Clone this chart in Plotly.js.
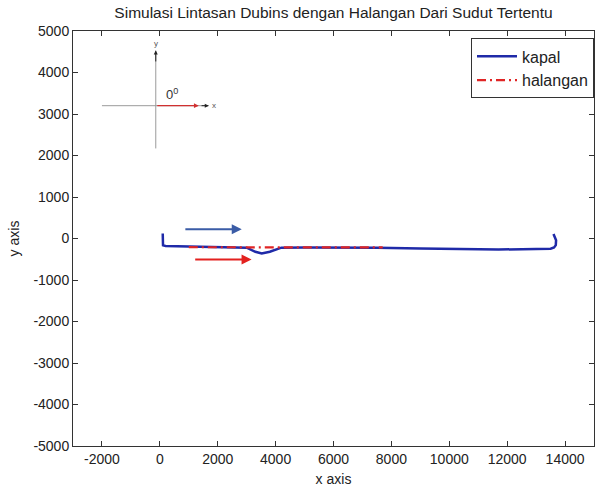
<!DOCTYPE html>
<html>
<head>
<meta charset="utf-8">
<script src="https://cdn.plot.ly/plotly-3.0.1.min.js"></script>
<style>
  html, body { margin: 0; padding: 0; background: #fff; }
  #plot { width: 595px; height: 489px; }
</style>
</head>
<body>
<div id="plot"></div>
<script>
// Ship track (kapal)
const kapalX = [100, 100, 110, 200, 1000, 2000, 3000, 3300, 3520, 3800, 4200, 5000, 6450, 7500, 9000, 10500, 11700, 13000, 13500, 13620, 13680, 13690, 13650, 13600];
const kapalY = [120, -120, -165, -180, -195, -205, -220, -320, -360, -320, -220, -215, -215, -225, -240, -255, -265, -255, -245, -215, -160, -40, 40, 110];

// Obstacle track (halangan)
const halanganX = [1000, 3000, 5000, 7700];
const halanganY = [-210, -215, -215, -215];

// Heading arrows along the track
const arrowBlue = { x0: 830, x1: 2830, y: 220 };
const arrowRed = { x0: 1170, x1: 3170, y: -505 };

// Small heading-reference axes in the upper left
const refAxis = { hx0: -2000, hx1: 1690, hy: 3200, vx: -140, vy0: 2170, vy1: 4530, headingTip: 1345 };

const xTicks = [-2000, 0, 2000, 4000, 6000, 8000, 10000, 12000, 14000];
const yTicks = [-5000, -4000, -3000, -2000, -1000, 0, 1000, 2000, 3000, 4000, 5000];

const font = 'Liberation Sans, Arial, sans-serif';

const traces = [
  {
    x: kapalX, y: kapalY, name: 'kapal', type: 'scatter', mode: 'lines',
    line: { color: '#1f2aa8', width: 2.5 }
  },
  {
    x: halanganX, y: halanganY, name: 'halangan', type: 'scatter', mode: 'lines',
    line: { color: '#e02525', width: 2.2, dash: '9px,4px,2px,4px' }
  }
];

const layout = {
  width: 595, height: 489,
  margin: { l: 73, r: 1, t: 31, b: 43 },
  paper_bgcolor: '#fff', plot_bgcolor: '#fff',
  font: { family: font, size: 14, color: '#222' },
  title: {
    text: 'Simulasi Lintasan Dubins dengan Halangan Dari Sudut Tertentu',
    font: { family: font, size: 15.5, color: '#222' },
    x: 0.5, xref: 'paper', xanchor: 'center', y: 0.975, yanchor: 'middle'
  },
  showlegend: true,
  legend: {
    x: 1.0, xanchor: 'right', y: 0.982, yanchor: 'top',
    bgcolor: '#fff', bordercolor: '#333', borderwidth: 1,
    font: { family: font, size: 16, color: '#222' },
    tracegroupgap: 0, itemwidth: 40
  },
  xaxis: {
    range: [-3000, 15000], tickvals: xTicks, ticktext: xTicks.map(String),
    ticks: 'inside', ticklen: 5, tickcolor: '#333', mirror: 'ticks',
    showline: true, linecolor: '#333', linewidth: 1,
    showgrid: false, zeroline: false,
    tickfont: { family: font, size: 14, color: '#222' },
    title: { text: 'x axis', font: { family: font, size: 14, color: '#222' }, standoff: 8 }
  },
  yaxis: {
    range: [-5000, 5000], tickvals: yTicks, ticktext: yTicks.map(String),
    ticks: 'inside', ticklen: 5, tickcolor: '#333', mirror: 'ticks',
    showline: true, linecolor: '#333', linewidth: 1,
    showgrid: false, zeroline: false,
    tickfont: { family: font, size: 14, color: '#222' },
    title: { text: 'y axis', font: { family: font, size: 14, color: '#222' }, standoff: 10 }
  },
  shapes: [
    { type: 'line', xref: 'x', yref: 'y', x0: refAxis.hx0, x1: refAxis.hx1, y0: refAxis.hy, y1: refAxis.hy,
      line: { color: '#9a9a9a', width: 1 } },
    { type: 'line', xref: 'x', yref: 'y', x0: refAxis.vx, x1: refAxis.vx, y0: refAxis.vy0, y1: refAxis.vy1,
      line: { color: '#9a9a9a', width: 1 } }
  ],
  annotations: [
    // heading vector
    { x: refAxis.headingTip, y: refAxis.hy, ax: refAxis.vx, ay: refAxis.hy, xref: 'x', yref: 'y', axref: 'x', ayref: 'y',
      text: '', showarrow: true, arrowhead: 2, arrowsize: 0.8, arrowwidth: 1.2, arrowcolor: '#d03030' },
    // x axis arrowhead of the reference frame
    { x: refAxis.hx1, y: refAxis.hy, ax: refAxis.hx1 - 300, ay: refAxis.hy, xref: 'x', yref: 'y', axref: 'x', ayref: 'y',
      text: '', showarrow: true, arrowhead: 2, arrowsize: 0.8, arrowwidth: 1, arrowcolor: '#222' },
    // y axis arrowhead of the reference frame
    { x: refAxis.vx, y: refAxis.vy1, ax: refAxis.vx, ay: refAxis.vy1 - 300, xref: 'x', yref: 'y', axref: 'x', ayref: 'y',
      text: '', showarrow: true, arrowhead: 2, arrowsize: 0.8, arrowwidth: 1, arrowcolor: '#222' },
    { x: refAxis.hx1 + 60, y: refAxis.hy, xref: 'x', yref: 'y', text: 'x', showarrow: false,
      xanchor: 'left', font: { family: font, size: 8, color: '#555' } },
    { x: refAxis.vx, y: refAxis.vy1 + 20, xref: 'x', yref: 'y', text: 'y', showarrow: false,
      yanchor: 'bottom', font: { family: font, size: 8, color: '#555' } },
    { x: 430, y: 3480, xref: 'x', yref: 'y', text: '0<sup>0</sup>', showarrow: false,
      font: { family: font, size: 13, color: '#333' } },
    // direction arrows
    { x: arrowBlue.x1, y: arrowBlue.y, ax: arrowBlue.x0, ay: arrowBlue.y, xref: 'x', yref: 'y', axref: 'x', ayref: 'y',
      text: '', showarrow: true, arrowhead: 2, arrowsize: 1, arrowwidth: 2, arrowcolor: '#3b5ca6' },
    { x: arrowRed.x1, y: arrowRed.y, ax: arrowRed.x0, ay: arrowRed.y, xref: 'x', yref: 'y', axref: 'x', ayref: 'y',
      text: '', showarrow: true, arrowhead: 2, arrowsize: 1, arrowwidth: 2, arrowcolor: '#e3211f' }
  ]
};

Plotly.newPlot('plot', traces, layout, { displayModeBar: false, staticPlot: true });
</script>
</body>
</html>
